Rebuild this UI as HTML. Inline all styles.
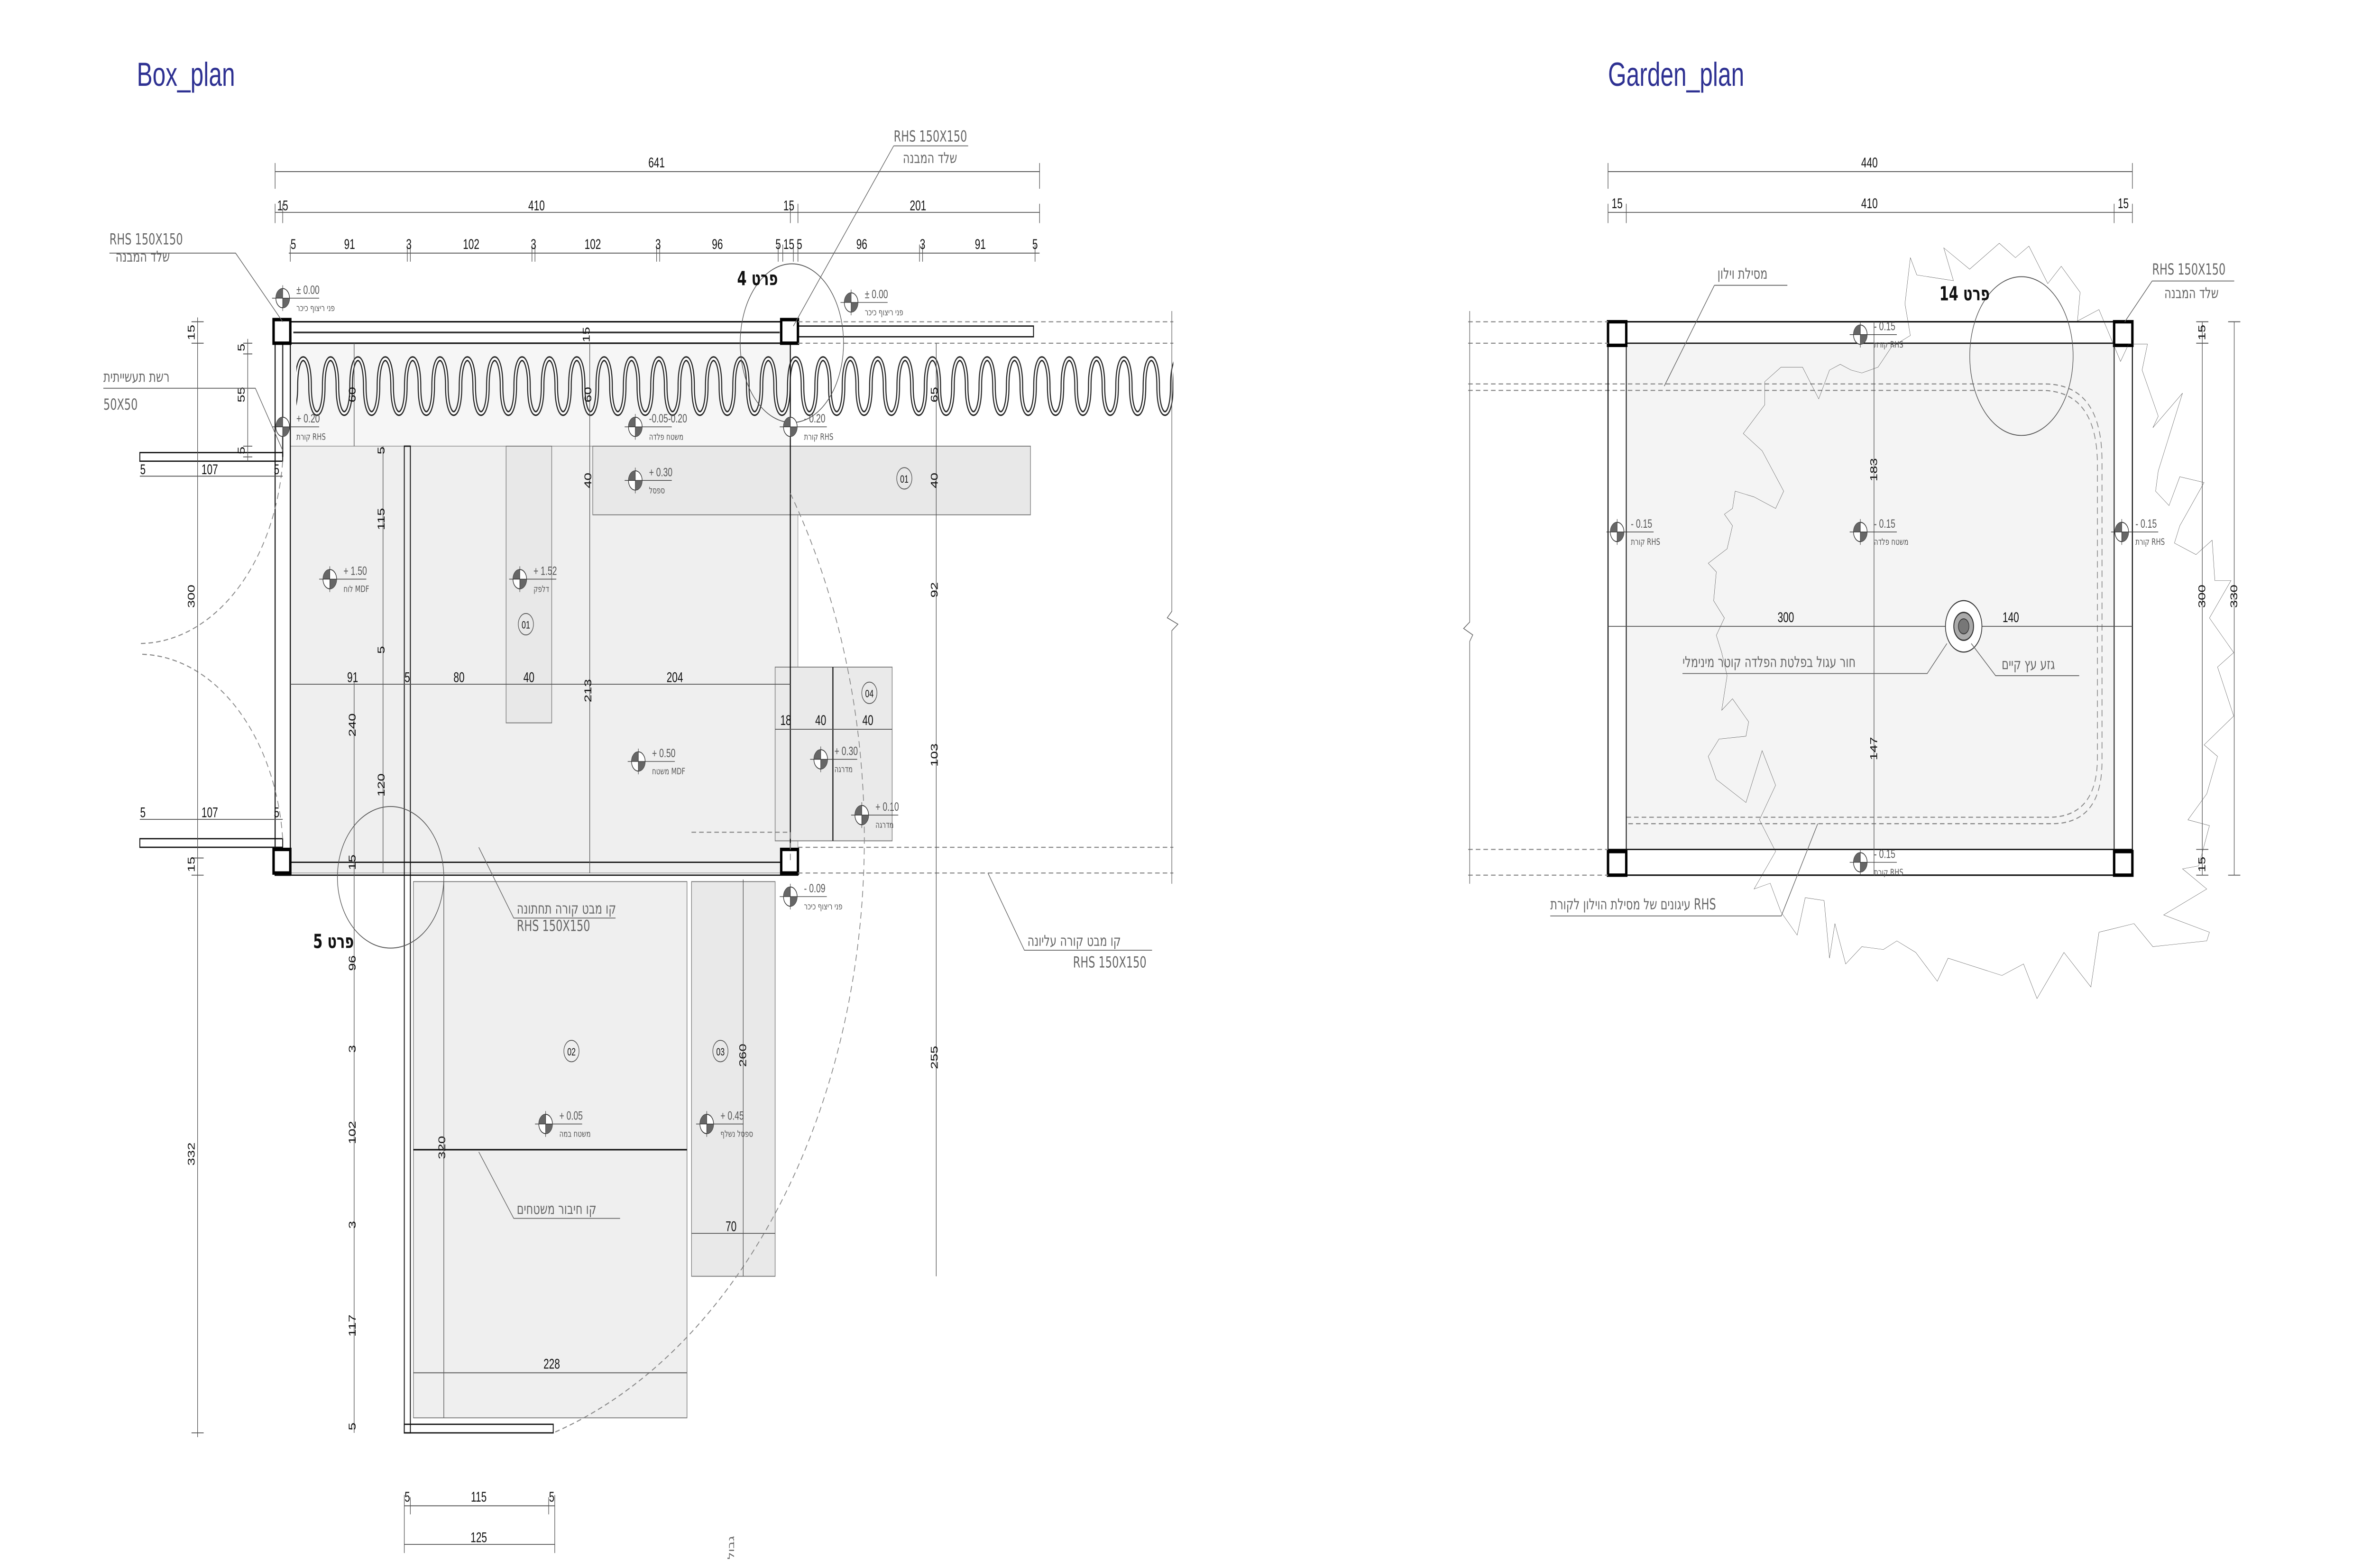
<!DOCTYPE html>
<html><head><meta charset="utf-8"><style>
html,body{margin:0;padding:0;background:#fff;width:100vw;height:100vh;overflow:hidden}
svg{display:block;position:absolute;left:0;top:0;width:100vw;height:100vh}
text{font-family:"Liberation Sans","DejaVu Sans",sans-serif;fill:#111}
.d{font-size:6.5px;text-anchor:middle}
.h{font-family:"DejaVu Sans","Liberation Sans",sans-serif;font-size:7px;fill:#666}
.lv{font-size:5.5px;fill:#555}
.ls{font-family:"DejaVu Sans",sans-serif;font-size:4.2px;fill:#555}
.t{font-family:"Liberation Sans",sans-serif;font-size:15.5px;fill:#2e3192}
.thin{stroke:#666;stroke-width:.4;fill:none}
.dl{stroke:#555;stroke-width:.4;fill:none}
.dash{stroke:#888;stroke-width:.5;stroke-dasharray:3 2;fill:none}
.k{stroke:#111;stroke-width:.7;fill:none}
.post{fill:#fff;stroke:#000;stroke-width:1.6}
.circ{fill:none;stroke:#555;stroke-width:.4}
</style></head><body>
<svg viewBox="0 0 1560 731" preserveAspectRatio="none" xmlns="http://www.w3.org/2000/svg">
<defs>
<g id="lm">
<circle r="4.5" fill="#fff" stroke="#333" stroke-width=".4"/>
<path d="M0 0 L-4.5 0 A4.5 4.5 0 0 1 0 -4.5Z M0 0 L4.5 0 A4.5 4.5 0 0 1 0 4.5Z" fill="#666"/>
<path d="M-7 0 H24 M0 -6 V6" stroke="#333" stroke-width=".3"/>
</g>
<pattern id="sq" x="195" y="165" width="18" height="30" patternUnits="userSpaceOnUse">
<path d="M-9 15 C-9 32 0 32 0 15 C0 -2 9 -2 9 15 C9 32 18 32 18 15 C18 -2 27 -2 27 15" fill="none" stroke="#222" stroke-width="2.4"/>
<path d="M-9 15 C-9 32 0 32 0 15 C0 -2 9 -2 9 15 C9 32 18 32 18 15 C18 -2 27 -2 27 15" fill="none" stroke="#fff" stroke-width="1"/>
</pattern>
</defs>

<text class="t" x="90" y="40">Box_plan</text>
<text class="t" x="1058" y="40">Garden_plan</text>

<!-- ================= BOX PLAN ================= -->
<rect x="191" y="160" width="329" height="48" fill="#f6f6f6"/>
<rect x="191" y="208" width="334" height="199" fill="#efefef" stroke="#888" stroke-width=".3"/>
<rect x="390" y="208" width="288" height="32" fill="#e8e8e8" stroke="#777" stroke-width=".4"/>
<rect x="333" y="208" width="30" height="129" fill="#e8e8e8" stroke="#777" stroke-width=".4"/>
<rect x="510" y="311" width="77" height="81" fill="#eaeaea" stroke="#777" stroke-width=".4"/>
<line x1="548" y1="311" x2="548" y2="392" class="k" stroke-width=".4"/>
<rect x="272" y="411" width="180" height="250" fill="#efefef" stroke="#777" stroke-width=".4"/>
<rect x="455" y="411" width="55" height="184" fill="#e9e9e9" stroke="#777" stroke-width=".4"/>
<line x1="272" y1="536" x2="452" y2="536" class="k" stroke-width=".5"/>
<rect x="195" y="165" width="577" height="30" fill="url(#sq)"/>
<rect x="181" y="150" width="344" height="10" fill="none" stroke="#111" stroke-width=".7"/>
<line x1="193" y1="155" x2="513" y2="155" stroke="#333" stroke-width=".8"/>
<rect x="525" y="152" width="155" height="5" fill="none" stroke="#111" stroke-width=".6"/>
<rect x="181" y="150" width="10" height="258" fill="none" stroke="#111" stroke-width=".7"/>
<line x1="186" y1="160" x2="186" y2="213" stroke="#333" stroke-width=".8"/>
<rect x="92" y="211" width="94" height="4" fill="none" stroke="#111" stroke-width=".6"/>
<rect x="92" y="391" width="94" height="4" fill="none" stroke="#111" stroke-width=".6"/>
<rect x="181" y="402" width="344" height="6" fill="none" stroke="#111" stroke-width=".6"/>
<rect x="266" y="208" width="4" height="460" fill="none" stroke="#111" stroke-width=".6"/>
<rect x="266" y="664" width="98" height="4" fill="none" stroke="#111" stroke-width=".6"/>
<line x1="520" y1="160" x2="520" y2="402" stroke="#111" stroke-width=".7"/>
<rect x="180" y="149" width="11" height="11" class="post"/>
<rect x="514" y="149" width="11" height="11" class="post"/>
<rect x="180" y="396" width="11" height="11" class="post"/>
<rect x="514" y="396" width="11" height="11" class="post"/>
<path class="dash" d="M525 150H772M525 160H772M525 395H772M525 407H772"/>
<path class="thin" d="M771 145V285L768 288L775 291L771 294V412"/>
<path class="dash" d="M186 215 A95 95 0 0 1 92 300" stroke-width=".4"/>
<path class="dash" d="M186 391 A95 95 0 0 0 92 305" stroke-width=".4"/>
<path class="dash" d="M520 230 A290 290 0 0 1 364 668" stroke-width=".4"/>
<path class="dash" d="M455 388H520V402" stroke-width=".4"/>
<ellipse cx="521" cy="160" rx="34" ry="37" class="circ"/>
<ellipse cx="257" cy="409" rx="35" ry="33" class="circ"/>
<text x="485" y="133" style="font-size:9px;font-weight:bold;font-family:'DejaVu Sans',sans-serif">פרט 4</text>
<text x="206" y="442" style="font-size:9px;font-weight:bold;font-family:'DejaVu Sans',sans-serif">פרט 5</text>

<path class="dl" d="M181 80H684M181 76V88M684 76V88"/>
<text class="d" x="432" y="78">641</text>
<path class="dl" d="M181 99H684M181 95V104M186 95V104M520 95V104M525 95V104M684 95V104"/>
<text class="d" x="186" y="98">15</text><text class="d" x="353" y="98">410</text><text class="d" x="519" y="98">15</text><text class="d" x="604" y="98">201</text>
<path class="dl" d="M190 118H684M191 114V122M268 114V122M270 114V122M350 114V122M352 114V122M432 114V122M434 114V122M512 114V122M515 114V122M522 114V122M525 114V122M605 114V122M607 114V122M681 114V122"/>
<text class="d" x="193" y="116">5</text><text class="d" x="230" y="116">91</text><text class="d" x="269" y="116">3</text><text class="d" x="310" y="116">102</text><text class="d" x="351" y="116">3</text><text class="d" x="390" y="116">102</text><text class="d" x="433" y="116">3</text><text class="d" x="472" y="116">96</text><text class="d" x="512" y="116">5</text><text class="d" x="519" y="116">15</text><text class="d" x="526" y="116">5</text><text class="d" x="567" y="116">96</text><text class="d" x="607" y="116">3</text><text class="d" x="645" y="116">91</text><text class="d" x="681" y="116">5</text>

<path class="dl" d="M130 148V670M126 150H134M126 160H134M126 400H134M126 408H134M126 668H134"/>
<g class="d">
<text transform="translate(128,155) rotate(-90)">15</text>
<text transform="translate(128,278) rotate(-90)">300</text>
<text transform="translate(128,403) rotate(-90)">15</text>
<text transform="translate(128,538) rotate(-90)">332</text>
<text transform="translate(161,162) rotate(-90)">5</text>
<text transform="translate(161,184) rotate(-90)">55</text>
<text transform="translate(161,210) rotate(-90)">5</text>
</g>
<path class="dl" d="M163 158V215M160 160H166M160 165H166M160 208H166M160 213H166"/>
<path class="dl" d="M92 222H186"/>
<text class="d" x="94" y="221">5</text><text class="d" x="138" y="221">107</text><text class="d" x="182" y="221">5</text>
<path class="dl" d="M92 382H186"/>
<text class="d" x="94" y="381">5</text><text class="d" x="138" y="381">107</text><text class="d" x="182" y="381">5</text>

<path class="dl" d="M233 160V208M233 318V668M388 160V407M616 160V407M616 402V595M252 208V407M191 319H520M510 340H587"/>
<g class="d">
<text transform="translate(234,184) rotate(-90)">60</text>
<text transform="translate(389,184) rotate(-90)">60</text>
<text transform="translate(617,184) rotate(-90)">65</text>
<text transform="translate(389,224) rotate(-90)">40</text>
<text transform="translate(617,224) rotate(-90)">40</text>
<text transform="translate(253,242) rotate(-90)">115</text>
<text transform="translate(617,275) rotate(-90)">92</text>
<text transform="translate(253,210) rotate(-90)">5</text>
<text transform="translate(253,303) rotate(-90)">5</text>
<text transform="translate(389,322) rotate(-90)">213</text>
<text transform="translate(234,338) rotate(-90)">240</text>
<text transform="translate(253,366) rotate(-90)">120</text>
<text transform="translate(617,352) rotate(-90)">103</text>
<text transform="translate(617,493) rotate(-90)">255</text>
<text transform="translate(491,492) rotate(-90)">260</text>
<text transform="translate(293,535) rotate(-90)">320</text>
<text transform="translate(234,402) rotate(-90)">15</text>
<text transform="translate(234,449) rotate(-90)">96</text>
<text transform="translate(234,489) rotate(-90)">3</text>
<text transform="translate(234,528) rotate(-90)">102</text>
<text transform="translate(234,571) rotate(-90)">3</text>
<text transform="translate(234,618) rotate(-90)">117</text>
<text transform="translate(234,665) rotate(-90)">5</text>
<text transform="translate(388,156) rotate(-90)">15</text>
</g>
<text class="d" x="232" y="318">91</text><text class="d" x="268" y="318">5</text><text class="d" x="302" y="318">80</text><text class="d" x="348" y="318">40</text><text class="d" x="444" y="318">204</text>
<text class="d" x="517" y="338">18</text><text class="d" x="540" y="338">40</text><text class="d" x="571" y="338">40</text>
<path class="dl" d="M489 410V595M455 575H510M272 640H452M292 411V661"/>
<text class="d" x="481" y="574">70</text>
<text class="d" x="363" y="638">228</text>
<path class="dl" d="M266 702H365M266 720H365M266 697V724M365 697V724M270 698V706M361 698V706"/>
<text class="d" x="268" y="700">5</text><text class="d" x="315" y="700">115</text><text class="d" x="363" y="700">5</text>
<text class="d" x="315" y="719">125</text>
<text class="h" transform="translate(483,727) rotate(-90)" style="font-size:6px">גבול</text>

<g class="circ" stroke="#666">
<circle cx="595" cy="223" r="5"/><circle cx="346" cy="291" r="5"/><circle cx="376" cy="490" r="5"/><circle cx="474" cy="490" r="5"/><circle cx="572" cy="323" r="5"/>
</g>
<g style="font-size:5px;fill:#666;text-anchor:middle">
<text x="595" y="225">01</text><text x="346" y="293">01</text><text x="376" y="492">02</text><text x="474" y="492">03</text><text x="572" y="325">04</text>
</g>

<g>
<use href="#lm" x="186" y="139"/><text class="lv" x="195" y="137">± 0.00</text><text class="ls" x="195" y="145">פני ריצוף כיכר</text>
<use href="#lm" x="560" y="141"/><text class="lv" x="569" y="139">± 0.00</text><text class="ls" x="569" y="147">פני ריצוף כיכר</text>
<use href="#lm" x="186" y="199"/><text class="lv" x="195" y="197">+ 0.20</text><text class="ls" x="195" y="205">קורת RHS</text>
<use href="#lm" x="520" y="199"/><text class="lv" x="529" y="197">- 0.20</text><text class="ls" x="529" y="205">קורת RHS</text>
<use href="#lm" x="418" y="199"/><text class="lv" x="427" y="197">-0.05-0.20</text><text class="ls" x="427" y="205">משטח פלדה</text>
<use href="#lm" x="418" y="224"/><text class="lv" x="427" y="222">+ 0.30</text><text class="ls" x="427" y="230">ספסל</text>
<use href="#lm" x="217" y="270"/><text class="lv" x="226" y="268">+ 1.50</text><text class="ls" x="226" y="276">לוח MDF</text>
<use href="#lm" x="342" y="270"/><text class="lv" x="351" y="268">+ 1.52</text><text class="ls" x="351" y="276">דלפק</text>
<use href="#lm" x="420" y="355"/><text class="lv" x="429" y="353">+ 0.50</text><text class="ls" x="429" y="361">משטח MDF</text>
<use href="#lm" x="540" y="354"/><text class="lv" x="549" y="352">+ 0.30</text><text class="ls" x="549" y="360">מדרגה</text>
<use href="#lm" x="567" y="380"/><text class="lv" x="576" y="378">+ 0.10</text><text class="ls" x="576" y="386">מדרגה</text>
<use href="#lm" x="520" y="418"/><text class="lv" x="529" y="416">- 0.09</text><text class="ls" x="529" y="424">פני ריצוף כיכר</text>
<use href="#lm" x="359" y="524"/><text class="lv" x="368" y="522">+ 0.05</text><text class="ls" x="368" y="530">משטח במה</text>
<use href="#lm" x="465" y="524"/><text class="lv" x="474" y="522">+ 0.45</text><text class="ls" x="474" y="530">ספסל נשלף</text>
</g>

<path class="thin" d="M72 118H155L186 150"/>
<text class="h" x="72" y="114">RHS 150X150</text><text class="h" x="76" y="122">שלד המבנה</text>
<path class="thin" d="M588 68H637M588 68L522 152"/>
<text class="h" x="588" y="66">RHS 150X150</text><text class="h" x="594" y="76">שלד המבנה</text>
<path class="thin" d="M68 181H168L186 210"/>
<text class="h" x="68" y="178">רשת תעשייתית</text><text class="h" x="68" y="191">50X50</text>
<path class="thin" d="M315 395L338 428H405"/>
<text class="h" x="340" y="426">קו מבט קורה תחתונה</text><text class="h" x="340" y="434">RHS 150X150</text>
<path class="thin" d="M650 407L674 443H758"/>
<text class="h" x="676" y="441">קו מבט קורה עליונה</text><text class="h" x="706" y="451">RHS 150X150</text>
<path class="thin" d="M315 537L338 568H408"/>
<text class="h" x="340" y="566">קו חיבור משטחים</text>

<!-- ================= GARDEN PLAN ================= -->
<rect x="1070" y="160" width="321" height="236" fill="#f4f4f4"/>
<path class="dash" d="M966 179H1345Q1383 179 1383 215V355Q1383 384 1350 384H1070M966 182H1343Q1380 182 1380 217V353Q1380 381 1348 381H1070" stroke-width=".35"/>
<rect x="1058" y="150" width="345" height="258" fill="none" stroke="#111" stroke-width=".7"/>
<path d="M1058 160H1403M1058 396H1403M1070 160V396M1391 160V396" stroke="#111" stroke-width=".6" fill="none"/>
<rect x="1058" y="150" width="12" height="11" class="post"/>
<rect x="1391" y="150" width="12" height="11" class="post"/>
<rect x="1058" y="397" width="12" height="11" class="post"/>
<rect x="1391" y="397" width="12" height="11" class="post"/>
<path class="dash" d="M966 150H1058M966 160H1058M966 396H1058M966 408H1058"/>
<path class="thin" d="M967 145V290L963 293L969 296L967 299V412"/>
<g transform="translate(955.5,67.7) scale(0.3546,0.2688)">
<polygon fill="none" stroke="#333" stroke-width="0.55" vector-effect="non-scaling-stroke" points="850,195 862,225 930,235 912,178 960,215 1015,170 1045,195 1070,175 1105,240 1130,210 1165,255 1160,305 1200,285 1240,375 1255,345 1290,345 1280,390 1310,470 1300,490 1355,430 1310,565 1305,600 1330,625 1350,575 1395,585 1350,660 1340,690 1380,710 1410,685 1415,755 1445,755 1405,820 1450,880 1420,905 1450,990 1395,1040 1420,1060 1400,1125 1365,1170 1405,1180 1385,1250 1355,1255 1400,1290 1320,1335 1405,1365 1400,1380 1300,1390 1265,1350 1200,1365 1185,1460 1135,1400 1085,1480 1060,1420 1020,1440 920,1410 900,1450 860,1400 825,1380 800,1395 760,1390 730,1420 710,1350 700,1410 690,1310 655,1305 640,1370 610,1330 590,1280 560,1290 600,1225 570,1170 600,1110 575,1050 545,1140 490,1100 475,1060 495,1030 545,1025 550,1000 520,960 500,980 510,920 500,880 490,850 505,820 485,790 490,740 475,725 510,700 520,660 505,640 520,630 525,600 560,610 600,630 615,600 575,530 540,500 580,450 580,410 610,385 650,385 680,440 700,390 720,380 740,390 760,395 790,385 815,350 850,330 840,275"/>
</g>
<ellipse cx="1330" cy="166" rx="34" ry="37" class="circ" stroke="#444"/>
<text x="1276" y="140" style="font-size:9px;font-weight:bold;font-family:'DejaVu Sans',sans-serif">פרט 14</text>
<path class="dl" d="M1233 150V408M1058 292H1403"/>
<text class="d" transform="translate(1235,219) rotate(-90)">183</text>
<text class="d" transform="translate(1235,349) rotate(-90)">147</text>
<text class="d" x="1175" y="290">300</text><text class="d" x="1323" y="290">140</text>
<circle cx="1292" cy="292" r="12" fill="#fff" stroke="#333" stroke-width=".5"/>
<circle cx="1292" cy="292" r="6.5" fill="#aaa" stroke="#333" stroke-width=".6"/>
<circle cx="1292" cy="292" r="3.5" fill="#777" stroke="#333" stroke-width=".4"/>
<path class="dl" d="M1058 80H1403M1058 76V88M1403 76V88"/>
<text class="d" x="1230" y="78">440</text>
<path class="dl" d="M1058 99H1403M1058 95V104M1070 95V104M1391 95V104M1403 95V104"/>
<text class="d" x="1064" y="97">15</text><text class="d" x="1230" y="97">410</text><text class="d" x="1397" y="97">15</text>
<path class="dl" d="M1449 150V408M1445 150H1453M1445 160H1453M1445 396H1453M1445 408H1453M1470 150V408M1466 150H1474M1466 408H1474"/>
<text class="d" transform="translate(1451,155) rotate(-90)">15</text>
<text class="d" transform="translate(1451,278) rotate(-90)">300</text>
<text class="d" transform="translate(1451,403) rotate(-90)">15</text>
<text class="d" transform="translate(1472,278) rotate(-90)">330</text>
<use href="#lm" x="1224" y="156"/><text class="lv" x="1233" y="154">- 0.15</text><text class="ls" x="1233" y="162">קורת RHS</text>
<use href="#lm" x="1064" y="248"/><text class="lv" x="1073" y="246">- 0.15</text><text class="ls" x="1073" y="254">קורת RHS</text>
<use href="#lm" x="1224" y="248"/><text class="lv" x="1233" y="246">- 0.15</text><text class="ls" x="1233" y="254">משטח פלדה</text>
<use href="#lm" x="1396" y="248"/><text class="lv" x="1405" y="246">- 0.15</text><text class="ls" x="1405" y="254">קורת RHS</text>
<use href="#lm" x="1224" y="402"/><text class="lv" x="1233" y="400">- 0.15</text><text class="ls" x="1233" y="408">קורת RHS</text>
<path class="thin" d="M1128 133H1176M1128 133L1095 180"/>
<text class="h" x="1130" y="130">מסילת וילון</text>
<path class="thin" d="M1416 131H1470M1416 131L1398 150"/>
<text class="h" x="1416" y="128">RHS 150X150</text><text class="h" x="1424" y="139">שלד המבנה</text>
<path class="thin" d="M1107 314H1268L1281 300"/>
<text class="h" x="1107" y="311">חור עגול בפלטת הפלדה קוטר מינימלי</text>
<path class="thin" d="M1297 300L1313 315H1368"/>
<text class="h" x="1317" y="312">גזע עץ קיים</text>
<path class="thin" d="M1020 427H1172L1196 384"/>
<text class="h" x="1020" y="424">עיגונים של מסילת הוילון לקורת RHS</text>
</svg>
</body></html>
